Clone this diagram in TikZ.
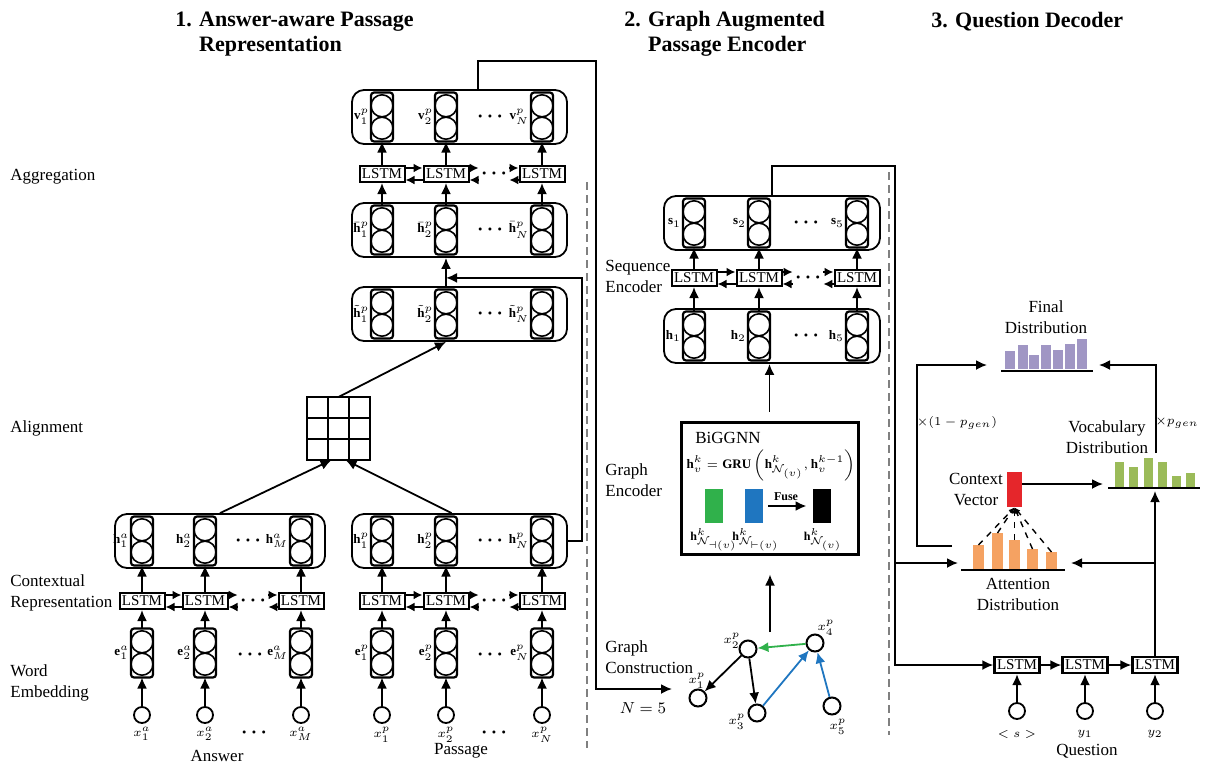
\documentclass[tikz,border=0pt]{standalone}
\usepackage{amsmath}
\usepackage{amssymb}
\usepackage{fontspec}
\setmainfont{Liberation Serif}
\usetikzlibrary{positioning,arrows.meta}
\definecolor{finc}{HTML}{A096C4}
\definecolor{vocc}{HTML}{9BBB59}
\definecolor{attc}{HTML}{F5A262}
\definecolor{ctxc}{HTML}{E5262B}
\definecolor{fusg}{HTML}{30B14B}
\definecolor{fusb}{HTML}{1F76C0}
\newcommand{\dotrow}{$\boldsymbol{\cdot}\mkern-1mu\boldsymbol{\cdot}\mkern-1mu\boldsymbol{\cdot}$}
\tikzstyle{cell} = [draw, line width=1.1pt, rounded corners=1.5pt, minimum width=11pt, minimum height=24.5pt, inner sep=0pt, outer sep=0pt,
  path picture={\draw[line width=0.8pt] ([yshift=5.6pt]path picture bounding box.center) circle (5.5pt)
    ([yshift=-5.6pt]path picture bounding box.center) circle (5.5pt);}]
\tikzstyle{grp} = [draw, line width=0.9pt, rounded corners=6pt, minimum height=27pt, inner sep=0pt]
\tikzstyle{lstm} = [draw, line width=1pt, fill=white, font=\fontsize{7.5}{8}\selectfont, minimum width=22.5pt, minimum height=8pt, inner sep=0.5pt]
\tikzstyle{inp} = [circle, draw, line width=0.9pt, minimum size=8pt, inner sep=0pt]
\tikzstyle{gnode} = [circle, draw, line width=1pt, minimum size=8.5pt, inner sep=0pt]
\tikzstyle{line} = [draw, -{Latex[length=5.5pt,width=5pt]}, line width=0.9pt]
\tikzstyle{pair} = [draw, -{Latex[length=4.5pt,width=4.5pt]}, line width=0.9pt]
\tikzstyle{lbl} = [font=\fontsize{6.5}{7}\selectfont, inner sep=0.3pt]
\tikzstyle{dots} = [font=\fontsize{10}{10}\selectfont, inner sep=1pt]
\tikzstyle{side} = [font=\fontsize{8.5}{10.5}\selectfont, align=left, anchor=west, inner sep=0pt]
\tikzstyle{txt} = [font=\fontsize{8.5}{10.5}\selectfont, align=center, inner sep=0pt]
\tikzstyle{ttl} = [font=\fontsize{11}{12.5}\selectfont\bfseries, align=left, anchor=west, inner sep=0pt]

\begin{document}
\begin{tikzpicture}[x=0.5pt, y=-0.5pt]
    \useasboundingbox (0,0) rectangle (1207,768);
    % Titles
    \node [ttl] (t1) at (175,34) {1. Answer-aware Passage\\\phantom{1. }Representation};
    \node [ttl] (t2) at (624,34) {2. Graph Augmented\\\phantom{2. }Passage Encoder};
    \node [ttl] (t3) at (931,22) {3. Question Decoder};
    % Layer names
    \node [side] (sagg) at (10,177) {Aggregation};
    \node [side] (sali) at (10,428) {Alignment};
    \node [side] (sctx) at (10,593) {Contextual\\Representation};
    \node [side] (semb) at (10,683) {Word\\Embedding};
    \node [side] (sseq) at (605,276) {Sequence\\Encoder};
    \node [side] (sgen) at (605,480) {Graph\\Encoder};
    \node [side] (scon) at (605,657) {Graph\\Construction};
    \draw [gray, dash pattern=on 4pt off 2.5pt, line width=0.8pt] (587,182) -- (587,748);
    \draw [gray, dash pattern=on 4pt off 2.5pt, line width=0.8pt] (889,172) -- (889,735);

    % Answer
    \foreach \i/\x/\s in {1/142/1, 2/205/2, 3/301/M} {
      \node [inp] (xa\i) at (\x,715) {};
      \node [lbl, below=1pt of xa\i] (xal\i) {$x^a_{\s}$};
      \node [cell] (ea\i) at (\x,653) {};
      \node [lbl, left=0.5pt of ea\i] (eal\i) {$\mathbf{e}^a_{\s}$};
      \node [lstm] (la\i) at (\x,601) {LSTM};
      \node [cell] (ha\i) at (\x,541) {};
      \node [lbl, left=0.5pt of ha\i] (hal\i) {$\mathbf{h}^a_{\s}$};
      \path [line] (xa\i) -- (ea\i);
      \path [line] (ea\i) -- (la\i);
      \path [line] (la\i) -- (ha\i);
    }
    \node [dots] (xadot) at (254,733) {\dotrow};
    \node [dots] (eadot) at (250,655) {\dotrow};
    \node [dots] (ladot) at (253,601) {\dotrow};
    \node [dots] (hadot) at (248,541) {\dotrow};
    \node [grp, minimum width=105pt] (hablk) at (220,541) {};
    \node [txt] (alab) at (217,756) {Answer};

    % Passage
    \foreach \i/\x/\s in {1/382/1, 2/446/2, 3/542/N} {
      \node [inp] (xp\i) at (\x,715) {};
      \node [lbl, below=1pt of xp\i] (xpl\i) {$x^p_{\s}$};
      \node [cell] (ep\i) at (\x,653) {};
      \node [lbl, left=0.5pt of ep\i] (epl\i) {$\mathbf{e}^p_{\s}$};
      \node [lstm] (lp\i) at (\x,601) {LSTM};
      \node [cell] (hp\i) at (\x,541) {};
      \node [lbl, left=0.5pt of hp\i] (hpl\i) {$\mathbf{h}^p_{\s}$};
      \node [cell] (tp\i) at (\x,314) {};
      \node [lbl, left=0.5pt of tp\i] (tpl\i) {$\tilde{\mathbf{h}}^p_{\s}$};
      \node [cell] (bp\i) at (\x,230) {};
      \node [lbl, left=0.5pt of bp\i] (bpl\i) {$\bar{\mathbf{h}}^p_{\s}$};
      \node [lstm] (lg\i) at (\x,174) {LSTM};
      \node [cell] (vp\i) at (\x,117) {};
      \node [lbl, left=0.5pt of vp\i] (vpl\i) {$\mathbf{v}^p_{\s}$};
      \path [line] (xp\i) -- (ep\i);
      \path [line] (ep\i) -- (lp\i);
      \path [line] (lp\i) -- (hp\i);
      \path [line] (bp\i) -- (lg\i);
      \path [line] (lg\i) -- (vp\i);
    }
    \node [dots] (xpdot) at (494,733) {\dotrow};
    \node [dots] (epdot) at (490,655) {\dotrow};
    \node [dots] (lpdot) at (494,601) {\dotrow};
    \node [dots] (hpdot) at (490,541) {\dotrow};
    \node [dots] (tpdot) at (490,314) {\dotrow};
    \node [dots] (bpdot) at (490,230) {\dotrow};
    \node [dots] (lgdot) at (494,174) {\dotrow};
    \node [dots] (vpdot) at (490,117) {\dotrow};
    \node [grp, minimum width=107.5pt] (hpblk) at (459.5,541) {};
    \node [grp, minimum width=107.5pt] (tblk) at (459.5,314) {};
    \node [grp, minimum width=107.5pt] (bblk) at (459.5,230) {};
    \node [grp, minimum width=107.5pt] (vblk) at (459.5,117) {};
    \node [txt] (plab) at (461,751) {Passage};

    % Alignment
    \node [draw, line width=1pt, minimum size=31.5pt, inner sep=0pt, outer sep=0pt] (align) at (338.5,428.5) {};
    \foreach \f in {1,2} {
      \draw [line width=1pt] ([xshift=\f*10.5pt]align.north west) -- ([xshift=\f*10.5pt]align.south west);
      \draw [line width=1pt] ([yshift=-\f*10.5pt]align.north west) -- ([yshift=-\f*10.5pt]align.north east);
    }

    % Sequence encoder
    \foreach \i/\x/\s in {1/694/1, 2/759/2, 3/857/5} {
      \node [cell] (gh\i) at (\x,336) {};
      \node [lbl, left=0.5pt of gh\i] (ghl\i) {$\mathbf{h}_{\s}$};
      \node [lstm] (ls\i) at (\x,278) {LSTM};
      \node [cell] (sq\i) at (\x,223) {};
      \node [lbl, left=0.5pt of sq\i] (sql\i) {$\mathbf{s}_{\s}$};
      \path [line] (gh\i) -- (ls\i);
      \path [line] (ls\i) -- (sq\i);
    }
    \node [dots] (ghdot) at (806,336) {\dotrow};
    \node [dots] (lsdot) at (808,278) {\dotrow};
    \node [dots] (sqdot) at (806,223) {\dotrow};
    \node [grp, minimum width=108pt] (sblk) at (772,223) {};
    \node [grp, minimum width=108pt] (hblk) at (772,336) {};

    % LSTM chains
    \foreach \rw in {la,lp,lg,ls} {
      \path [pair] ([yshift=3pt]\rw1.east) -- ([yshift=3pt]\rw2.west);
      \path [pair] ([yshift=-3pt]\rw2.west) -- ([yshift=-3pt]\rw1.east);
      \path [pair] ([yshift=3pt]\rw2.east) -- ([yshift=3pt]\rw dot.west);
      \path [pair] ([yshift=-3pt]\rw dot.west) -- ([yshift=-3pt]\rw2.east);
      \path [pair] ([yshift=3pt]\rw dot.east) -- ([yshift=3pt]\rw3.west);
      \path [pair] ([yshift=-3pt]\rw3.west) -- ([yshift=-3pt]\rw dot.east);
    }

    % Graph encoder
    \node [draw, line width=1.5pt, minimum width=88.5pt, minimum height=66pt] (gnn) at (769.5,488) {};
    \node [anchor=west, font=\fontsize{8.5}{10}\selectfont, inner sep=0pt] (gnnt) at (695,438) {BiGGNN};
    \node [font=\fontsize{6.5}{8}\selectfont, inner sep=0pt] (geq) at (771,465)
      {$\mathbf{h}_v^k=\mathbf{GRU}\left(\mathbf{h}^k_{\mathcal{N}_{(v)}},\mathbf{h}_v^{k-1}\right)$};
    \node [fill=fusg, minimum width=9pt, minimum height=17pt, inner sep=0pt] (gvec) at (714,506) {};
    \node [fill=fusb, minimum width=9pt, minimum height=17pt, inner sep=0pt] (bvec) at (754,506) {};
    \node [fill=black, minimum width=9pt, minimum height=17pt, inner sep=0pt] (kvec) at (822,506) {};
    \node [font=\fontsize{6}{7}\selectfont\bfseries, inner sep=0pt] (fuse) at (786,497) {Fuse};
    \node [lbl, font=\fontsize{6}{7}\selectfont] (gvecl) at (714,540) {$\mathbf{h}^k_{\mathcal{N}_{\dashv(v)}}$};
    \node [lbl, font=\fontsize{6}{7}\selectfont] (bvecl) at (756,540) {$\mathbf{h}^k_{\mathcal{N}_{\vdash(v)}}$};
    \node [lbl, font=\fontsize{6}{7}\selectfont] (kvecl) at (823,540) {$\mathbf{h}^k_{\mathcal{N}_{(v)}}$};
    \path [line, line width=1.2pt, shorten <=2.5pt, shorten >=3pt] (bvec.east) -- (kvec.west);

    % Graph construction
    \node [gnode] (g1) at (698,698) {};
    \node [gnode] (g2) at (748,649) {};
    \node [gnode] (g3) at (757,713) {};
    \node [gnode] (g4) at (815,643) {};
    \node [gnode] (g5) at (832,706) {};
    \node [lbl] (g1l) at (697,681) {$x^p_1$};
    \node [lbl] (g2l) at (732,641) {$x^p_2$};
    \node [lbl] (g3l) at (737,722) {$x^p_3$};
    \node [lbl] (g4l) at (826,628) {$x^p_4$};
    \node [lbl] (g5l) at (838,727) {$x^p_5$};
    \node [lbl, font=\fontsize{8}{9}\selectfont] (nfive) at (643,708) {$N=5$};
    \path [line] (g2) -- (g1);
    \path [line] (g2) -- (g3);
    \path [line, draw=fusg] (g4) -- (g2);
    \path [line, draw=fusb] (g3) -- (g4);
    \path [line, draw=fusb] (g5) -- (g4);
    \coordinate (gtop) at (770,632);
    \coordinate (gin) at (672,689);

    % Question decoder
    \foreach \i/\x/\s in {1/1017/{<s>}, 2/1085/{y_1}, 3/1155/{y_2}} {
      \node [inp] (dx\i) at (\x,711) {};
      \node [lbl] (dxl\i) at (\x,734) {$\s$};
      \node [lstm, line width=1.2pt] (dl\i) at (\x,665) {LSTM};
      \path [line] (dx\i) -- (dl\i);
    }
    \node [txt] (qlab) at (1087,751) {Question};
    \foreach \a/\t [count=\i] in {973/545, 992/533, 1009/540, 1027/549, 1046/552} {
      \fill [attc] (\a,\t) rectangle (\a+11,569);
      \coordinate (ab\i) at (\a+5.5,\t);
    }
    \draw [line width=1.2pt] (961,570) -- (1065,570);
    \node [txt] (attl) at (1018,594) {Attention\\Distribution};
    \foreach \a/\t in {1115/462, 1129/467, 1144/458, 1158/462, 1172/476, 1186/473}
      \fill [vocc] (\a,\t) rectangle (\a+9,487);
    \draw [line width=1.2pt] (1108,488) -- (1200,488);
    \node [txt] (vocl) at (1107,437) {Vocabulary\\Distribution};
    \foreach \a/\t in {1005/351, 1018/345, 1029/355, 1041/345, 1053/350, 1065/344, 1077/339}
      \fill [finc] (\a,\t) rectangle (\a+9.5,369);
    \draw [line width=1.2pt] (1001,371) -- (1093,371);
    \node [txt] (finl) at (1046,317) {Final\\Distribution};
    \node [fill=ctxc, minimum width=7.5pt, minimum height=17.5pt, inner sep=0pt] (ctx) at (1014.5,489.5) {};
    \node [txt] (ctxl) at (976,489) {Context\\Vector};
    \node [lbl] (pg1) at (957,423) {$\times(1-p_{gen})$};
    \node [lbl] (pg2) at (1177,423) {$\times p_{gen}$};
    \coordinate (attw) at (958,563);
    \coordinate (atte) at (1071,563);
    \coordinate (attul) at (952,546);
    \coordinate (vocw) at (1103,484);
    \coordinate (vocb) at (1155,491);
    \coordinate (vocn) at (1156,453);
    \coordinate (finw) at (987,365);
    \coordinate (fine) at (1099,365);

    % Lines
    \path [line] (hablk.north) -- ([xshift=-3.5pt]align.south);
    \path [line] ([xshift=-4pt]hpblk.north) -- ([xshift=3.5pt]align.south);
    \path [line] (align.north) -- (tblk.south -| tp2);
    \path [line] (tblk.north -| tp2) -- (bblk.south -| bp2);
    \path [line] (hpblk.east) -- ++(7pt,0) |- ([yshift=-10pt]bblk.south -| bp2);
    \path [line] ([xshift=9.25pt]vblk.north) -- ++(0,14pt) -| ([xshift=-38pt]gin) -- (gin);
    \path [line, shorten >=9.5pt] (gtop) -- (gnn.south -| gtop);
    \path [line, shorten <=4.5pt] (gnn.north) -- (hblk.south -| gnn.north);
    \path [line] (sblk.north) -- ++(0,14.5pt) -| ([xshift=-49pt]dl1.west) -- (dl1.west);
    \path [line] ([xshift=-31pt]attw) -- (attw);
    \path [line] (dl1) -- (dl2);
    \path [line] (dl2) -- (dl3);
    \path [line] (dl3.north) -- (vocb);
    \path [line] (dl3.north |- atte) -- (atte);
    \foreach \i in {1,...,5}
      \path [draw, dashed, line width=0.7pt, -{Latex[length=3pt,width=2.5pt]}] (ab\i) -- (ctx.south);
    \path [line] (ctx.east |- vocw) -- (vocw);
    \path [line] (vocn) |- (fine);
    \path [line] (attul) -- ++(-17.5pt,0) |- (finw);
\end{tikzpicture}
\end{document}
